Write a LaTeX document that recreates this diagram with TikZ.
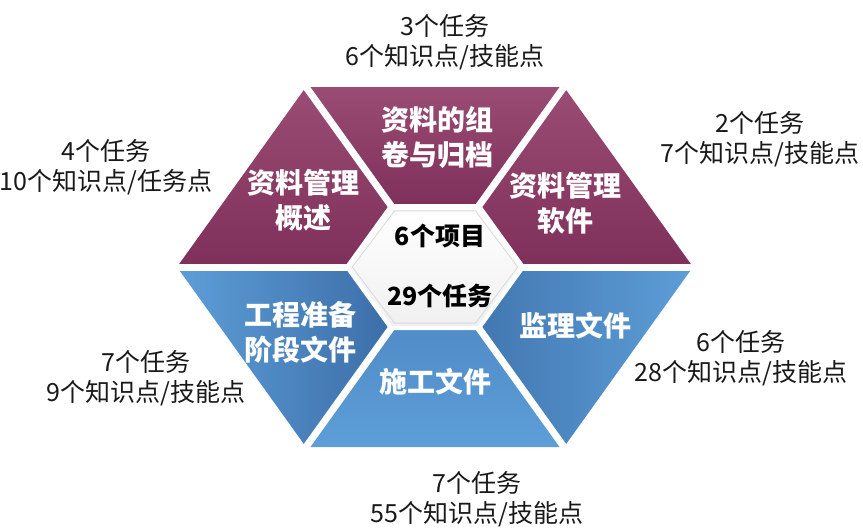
\documentclass[tikz,border=0pt]{standalone}
\usepackage{fontspec}
\setmainfont{Noto Sans CJK SC}
\newfontfamily\cjk{Noto Sans CJK SC}
\usetikzlibrary{calc}
\definecolor{maroonL}{RGB}{154,76,116}
\definecolor{maroonD}{RGB}{126,48,90}
\definecolor{blueL}{RGB}{93,158,216}
\definecolor{blueD}{RGB}{60,110,168}
\definecolor{blueM}{RGB}{80,140,200}
\tikzset{
  piecetext/.style={text=white,font=\cjk\bfseries\fontsize{28}{35}\selectfont,align=center,inner sep=0pt},
  centertext/.style={text=black,font=\cjk\bfseries\fontsize{25}{30}\selectfont,inner sep=0pt},
  labeltext/.style={text=black!90,font=\cjk\fontsize{25}{30}\selectfont,align=center,inner sep=0pt},
  gapline/.style={white,line width=7pt},
}
\begin{document}
\begin{tikzpicture}[x=1pt,y=-1pt]
\useasboundingbox (0,0) rectangle (863,530);
% outer vertices
\coordinate (O0) at (693,267);
\coordinate (O1) at (564,87);
\coordinate (O2) at (306,87);
\coordinate (O3) at (177,267);
\coordinate (O4) at (306,447);
\coordinate (O5) at (564,447);
% inner vertices
\coordinate (I0) at (523,267);
\coordinate (I1) at (479,206);
\coordinate (I2) at (391,206);
\coordinate (I3) at (347,267);
\coordinate (I4) at (391,328);
\coordinate (I5) at (479,328);
% upper pieces
\shade[top color=maroonL,bottom color=maroonD] (O1)--(O2)--(I2)--(I1)--cycle;
\shade[top color=maroonL,bottom color=maroonD] (O2)--(O3)--(I3)--(I2)--cycle;
\shade[top color=maroonL,bottom color=maroonD] (O0)--(O1)--(I1)--(I0)--cycle;
% lower pieces
\shade[shading=axis,shading angle=30,left color=blueL,right color=blueD] (O3)--(O4)--(I4)--(I3)--cycle;
\shade[top color=blueM,bottom color=blueL] (O4)--(O5)--(I5)--(I4)--cycle;
\shade[shading=axis,shading angle=-30,right color=blueL,left color=blueD!80!blueL] (O5)--(O0)--(I0)--(I5)--cycle;
% gaps
\draw[gapline] (O0)--(O3);
\draw[gapline] (O1)--(O4);
\draw[gapline] (O2)--(O5);
% center hexagon
\shade[top color=white,bottom color=black!6,draw=white,line width=4pt,line join=miter]
  (I0)--(I1)--(I2)--(I3)--(I4)--(I5)--cycle;
\draw[black!15,line width=0.8pt] ($(I0)!0.03!(I3)$)--($(I1)!0.04!(I4)$)--($(I2)!0.04!(I5)$)--($(I3)!0.03!(I0)$)--($(I4)!0.04!(I1)$)--($(I5)!0.04!(I2)$)--cycle;
% piece texts
\node[piecetext] (p1) at (437,137) {资料的组\\卷与归档};
\node[piecetext] (p2) at (303,200) {资料管理\\概述};
\node[piecetext] (p3) at (565,203) {资料管理\\软件};
\node[piecetext] (p4) at (300,332) {工程准备\\阶段文件};
\node[piecetext] (p5) at (435,382) {施工文件};
\node[piecetext] (p6) at (575,326) {监理文件};
% center texts
\node[centertext] (c1) at (440,236) {6个项目};
\node[centertext] (c2) at (440,296) {29个任务};
% outer labels
\node[labeltext] (l1) at (445,42) {3个任务\\6个知识点/技能点};
\node[labeltext] (l2) at (106,167) {4个任务\\10个知识点/任务点};
\node[labeltext] (l3) at (760,139) {2个任务\\7个知识点/技能点};
\node[labeltext] (l4) at (146,378) {7个任务\\9个知识点/技能点};
\node[labeltext] (l5) at (741,358) {6个任务\\28个知识点/技能点};
\node[labeltext] (l6) at (477,499) {7个任务\\55个知识点/技能点};
\end{tikzpicture}
\end{document}
